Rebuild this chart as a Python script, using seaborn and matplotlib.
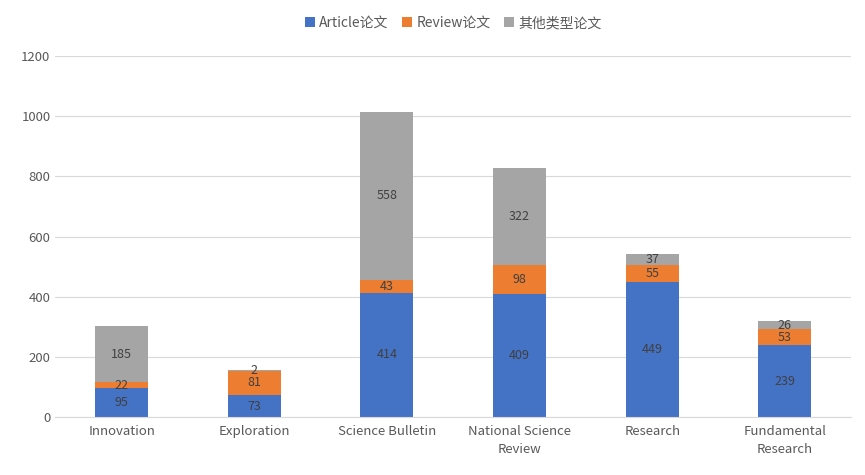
import matplotlib
matplotlib.use("Agg")
import matplotlib.pyplot as plt
import seaborn as sns
import numpy as np
import pandas as pd

categories = ["Innovation", "Exploration", "Science Bulletin", "National Science\nReview", "Research", "Fundamental\nResearch"]
article = [95, 73, 414, 409, 449, 239]
review = [22, 81, 43, 98, 55, 53]
other = [185, 2, 558, 322, 37, 26]
series_names = ["Article论文", "Review论文", "其他类型论文"]
colors = ["#4472C4", "#ED7D31", "#A5A5A5"]

sns.set_style("white")
plt.rcParams['font.family'] = ['Noto Sans CJK SC', 'DejaVu Sans']

fig = plt.figure(figsize=(8.65, 4.75), dpi=100)
ax = fig.add_axes([0.064, 0.122, 0.92, 0.76])

bottom = np.zeros(len(categories))
for name, vals, c in zip(series_names, [article, review, other], colors):
    df = pd.DataFrame({"cat": categories, "v": vals})
    sns.barplot(data=df, x="cat", y="v", color=c, bottom=bottom, width=0.4,
                ax=ax, label=name, saturation=1, linewidth=0, edgecolor="none")
    for i, v in enumerate(vals):
        ax.text(i, bottom[i] + v / 2, str(v), ha="center", va="center",
                fontsize=9, color="#404040")
    bottom = bottom + np.array(vals)

ax.set_ylim(0, 1200)
ax.set_yticks(range(0, 1201, 200))
ax.yaxis.grid(True, color="#D9D9D9", linewidth=0.8)
ax.set_axisbelow(True)
for s in ["top", "right", "left"]:
    ax.spines[s].set_visible(False)
ax.spines["bottom"].set_color("#D9D9D9")
ax.set_xlabel("")
ax.set_ylabel("")
ax.tick_params(axis="both", length=0, labelsize=9.5, colors="#595959")
ax.tick_params(axis="x", pad=6)
for t in ax.get_xticklabels():
    t.set_linespacing(1.5)
ax.legend(loc="upper center", bbox_to_anchor=(0.5, 1.145), ncol=3, frameon=False,
          fontsize=10, handlelength=0.7, handleheight=0.7, columnspacing=1.0,
          handletextpad=0.3, labelcolor="#595959")
fig.savefig("out.png", dpi=100)
